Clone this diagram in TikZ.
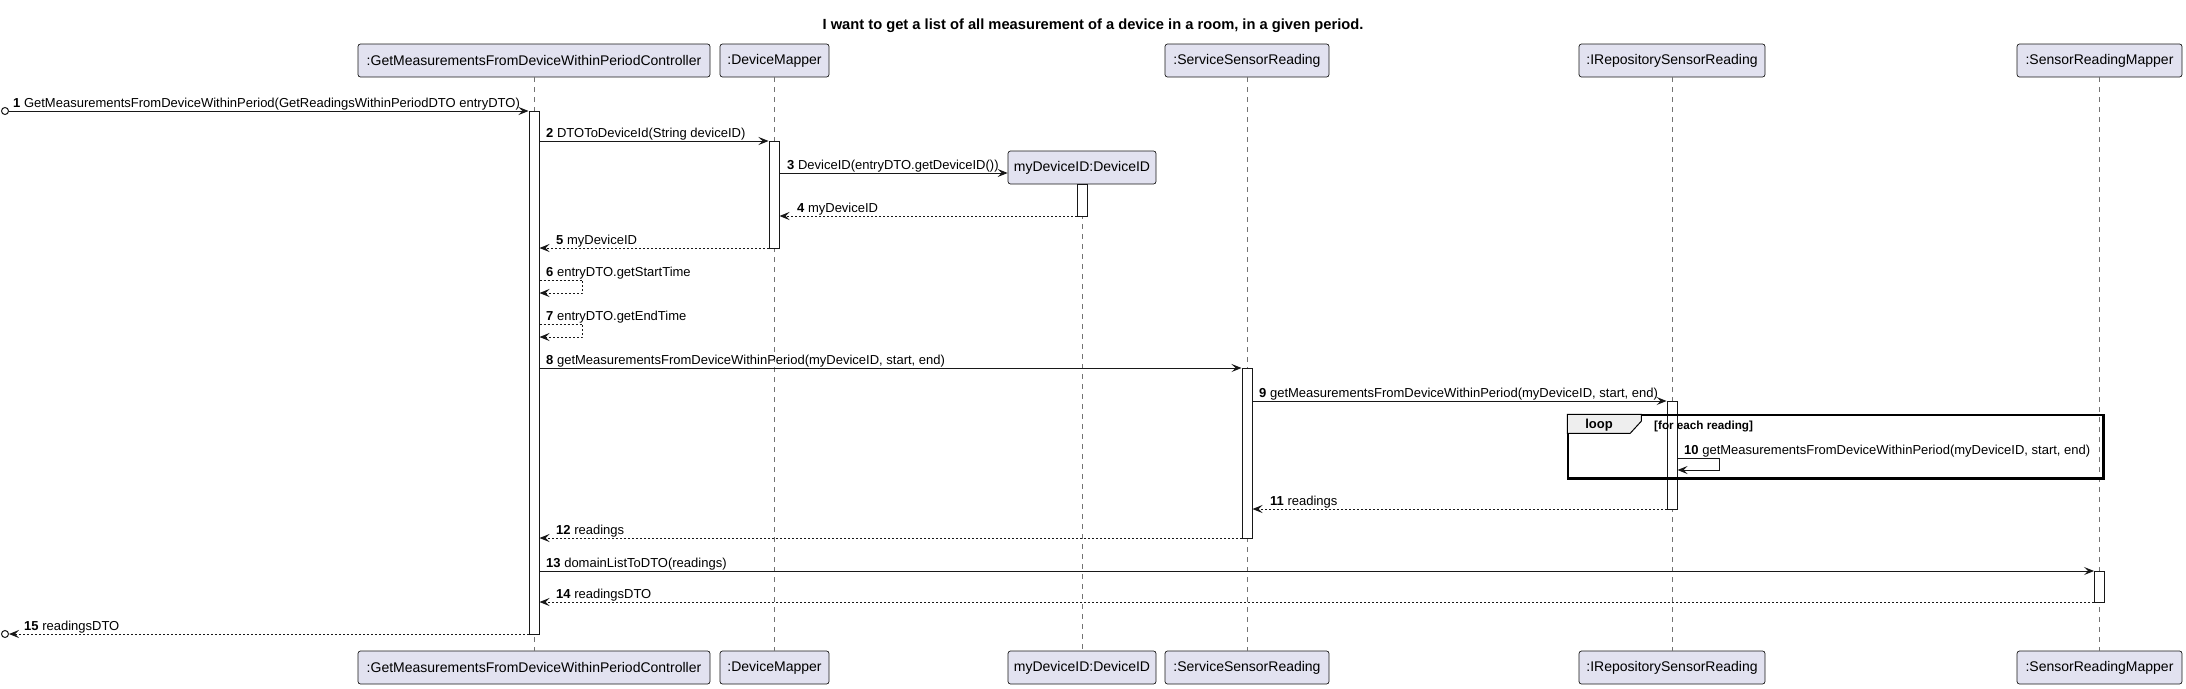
\documentclass[tikz,border=0pt]{standalone}
\usepackage{fontspec}
\setmainfont{Liberation Sans}
\usetikzlibrary{arrows.meta,calc}
\definecolor{partfill}{HTML}{E2E2F0}
\definecolor{ink}{HTML}{181818}
\definecolor{tabfill}{HTML}{EEEEEE}
\begin{document}
\begin{tikzpicture}[x=1pt,y=-1pt,
  part/.style={draw=ink, fill=partfill, rounded corners=2.5pt, line width=0.7pt, inner sep=0pt, minimum height=33pt, font=\fontsize{14}{16}\selectfont},
  life/.style={draw=black!55, line width=0.7pt, dash pattern=on 5pt off 5pt},
  act/.style={draw=ink, fill=white, line width=1pt, inner sep=0pt, minimum width=10pt},
  msg/.style={draw=ink, line width=1pt, -{Stealth[length=10pt,width=8pt,inset=4pt]}},
  ret/.style={msg, dash pattern=on 2pt off 2pt},
  lbl/.style={anchor=base west, inner sep=0pt, font=\fontsize{13}{15}\selectfont},
  endpt/.style={draw=ink, fill=white, circle, line width=1pt, minimum size=7pt, inner sep=0pt},
  frame/.style={draw=black, line width=1.5pt, inner sep=0pt}
]
\useasboundingbox (0,0) rectangle (2186,688);

% title
\node[anchor=base, inner sep=0pt, font=\bfseries\fontsize{14.7}{17}\selectfont] (title) at (1093,29) {I want to get a list of all measurement of a device in a room, in a given period.};

% participants (top)
\node[part, minimum width=352pt] (P1) at (534,60.5) {:GetMeasurementsFromDeviceWithinPeriodController};
\node[part, minimum width=109pt] (P2) at (774.5,60.5) {:DeviceMapper};
\node[part, minimum width=164pt] (P4) at (1247,60.5) {:ServiceSensorReading};
\node[part, minimum width=186pt] (P5) at (1672,60.5) {:IRepositorySensorReading};
\node[part, minimum width=165pt] (P6) at (2099.5,60.5) {:SensorReadingMapper};
\node[part, minimum width=148pt] (P3) at (1082,167.5) {myDeviceID:DeviceID};

% participants (bottom)
\node[part, minimum width=352pt] (Q1) at (534,667.5) {:GetMeasurementsFromDeviceWithinPeriodController};
\node[part, minimum width=109pt] (Q2) at (774.5,667.5) {:DeviceMapper};
\node[part, minimum width=148pt] (Q3) at (1082,667.5) {myDeviceID:DeviceID};
\node[part, minimum width=164pt] (Q4) at (1247,667.5) {:ServiceSensorReading};
\node[part, minimum width=186pt] (Q5) at (1672,667.5) {:IRepositorySensorReading};
\node[part, minimum width=165pt] (Q6) at (2099.5,667.5) {:SensorReadingMapper};

% lifelines
\draw[life] (P1.south) -- (Q1.north);
\draw[life] (P2.south) -- (Q2.north);
\draw[life] (P3.south) -- (Q3.north);
\draw[life] (P4.south) -- (Q4.north);
\draw[life] (P5.south) -- (Q5.north);
\draw[life] (P6.south) -- (Q6.north);

% activations
\node[act, minimum height=523pt] (A1) at (534,372.5) {};
\node[act, minimum height=107pt] (A2) at (774,194.5) {};
\node[act, minimum height=32pt] (A3) at (1082,200) {};
\node[act, minimum height=170pt] (A4) at (1247,453) {};
\node[act, minimum height=108pt] (A5) at (1672,455) {};
\node[act, minimum height=31pt] (A6) at (2099.5,586.5) {};

% 1
\node[endpt] (S1) at (5,111) {};
\draw[msg] (S1.east) -- (A1.west |- S1);
\node[lbl] (m1) at (13,107) {\textbf{1} GetMeasurementsFromDeviceWithinPeriod(GetReadingsWithinPeriodDTO entryDTO)};
% 2
\draw[msg] (A1.east |- 0,141) -- (A2.west |- 0,141);
\node[lbl] (m2) at (546,137) {\textbf{2} DTOToDeviceId(String deviceID)};
% 3
\draw[msg] (A2.east |- 0,173) -- (P3.west |- 0,173);
\node[lbl] (m3) at (787,169) {\textbf{3} DeviceID(entryDTO.getDeviceID())};
% 4
\draw[ret] (A3.west |- 0,216) -- (A2.east |- 0,216);
\node[lbl] (m4) at (797,212) {\textbf{4} myDeviceID};
% 5
\draw[ret] (A2.west |- 0,248) -- (A1.east |- 0,248);
\node[lbl] (m5) at (556,244) {\textbf{5} myDeviceID};
% 6
\draw[ret] (A1.east |- 0,280) -- ++(43,0) -- ++(0,13) -- (A1.east |- 0,293);
\node[lbl] (m6) at (546,276) {\textbf{6} entryDTO.getStartTime};
% 7
\draw[ret] (A1.east |- 0,324) -- ++(43,0) -- ++(0,13) -- (A1.east |- 0,337);
\node[lbl] (m7) at (546,320) {\textbf{7} entryDTO.getEndTime};
% 8
\draw[msg] (A1.east |- 0,368) -- (A4.west |- 0,368);
\node[lbl] (m8) at (546,364) {\textbf{8} getMeasurementsFromDeviceWithinPeriod(myDeviceID, start, end)};
% 9
\draw[msg] (A4.east |- 0,401) -- (A5.west |- 0,401);
\node[lbl] (m9) at (1259,397) {\textbf{9} getMeasurementsFromDeviceWithinPeriod(myDeviceID, start, end)};

% loop frame
\node[frame, minimum width=535pt, minimum height=63pt] (loop) at (1835.5,446.5) {};
\draw[draw=black, line width=1pt, fill=tabfill] (loop.north west) -- ++(74,0) -- ++(0,7) -- ++(-11,12) -- ($(loop.north west)+(0,19)$) -- cycle;
\node[font=\bfseries\fontsize{13}{15}\selectfont, inner sep=0pt] (looplbl) at (1599,425.5) {loop};
\node[anchor=base west, inner sep=0pt, font=\bfseries\fontsize{11.7}{14}\selectfont] (loopcond) at (1654,429) {[for each reading]};
\draw[frame] (loop.north west) rectangle (loop.south east);

% 10
\draw[msg] (A5.east |- 0,458) -- ++(42,0) -- ++(0,12) -- (A5.east |- 0,470);
\node[lbl] (m10) at (1684,454) {\textbf{10} getMeasurementsFromDeviceWithinPeriod(myDeviceID, start, end)};
% 11
\draw[ret] (A5.west |- 0,509) -- (A4.east |- 0,509);
\node[lbl] (m11) at (1270,505) {\textbf{11} readings};
% 12
\draw[ret] (A4.west |- 0,538) -- (A1.east |- 0,538);
\node[lbl] (m12) at (556,534) {\textbf{12} readings};
% 13
\draw[msg] (A1.east |- 0,571) -- (A6.west |- 0,571);
\node[lbl] (m13) at (546,567) {\textbf{13} domainListToDTO(readings)};
% 14
\draw[ret] (A6.west |- 0,602) -- (A1.east |- 0,602);
\node[lbl] (m14) at (556,598) {\textbf{14} readingsDTO};
% 15
\node[endpt] (S15) at (5,634) {};
\draw[ret] (A1.west |- S15) -- (S15.east);
\node[lbl] (m15) at (24,630) {\textbf{15} readingsDTO};
\end{tikzpicture}
\end{document}
